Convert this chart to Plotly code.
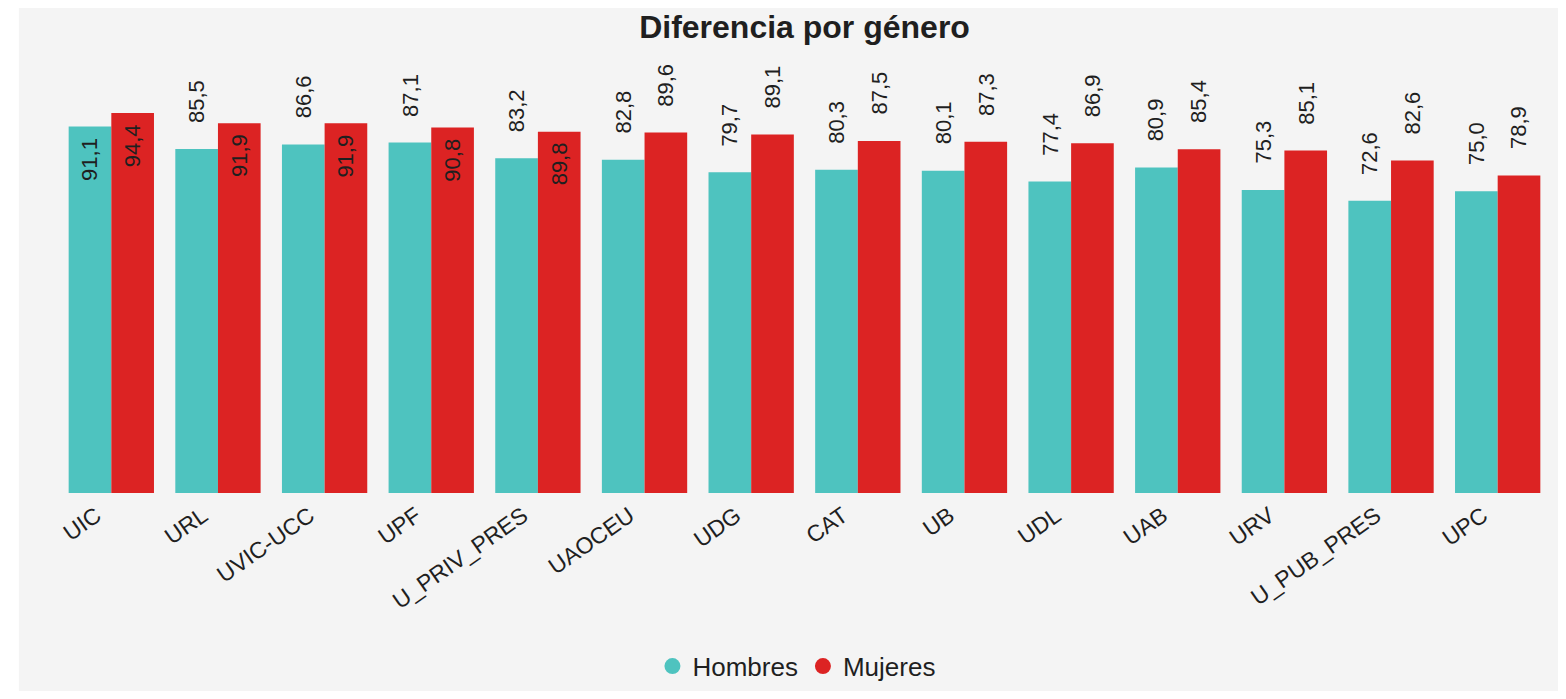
import plotly.graph_objects as go

# Datos: porcentaje por universidad y género
universidades = [
    "UIC", "URL", "UVIC-UCC", "UPF", "U_PRIV_PRES", "UAOCEU", "UDG",
    "CAT", "UB", "UDL", "UAB", "URV", "U_PUB_PRES", "UPC",
]
hombres = [91.1, 85.5, 86.6, 87.1, 83.2, 82.8, 79.7, 80.3, 80.1, 77.4, 80.9, 75.3, 72.6, 75.0]
mujeres = [94.4, 91.9, 91.9, 90.8, 89.8, 89.6, 89.1, 87.5, 87.3, 86.9, 85.4, 85.1, 82.6, 78.9]

# posicion de la etiqueta de cada barra (dentro / fuera)
pos_hombres = ["in"] + ["out"] * 13
pos_mujeres = ["in"] * 5 + ["out"] * 9

COLOR_H = "#4EC3BF"
COLOR_M = "#DC2323"
FONDO = "#F4F4F4"
FUENTE = "Liberation Sans, Arial, sans-serif"
TEXTO = "#1f1f1f"

fig = go.Figure()
fig.add_trace(go.Bar(x=universidades, y=hombres, name="Hombres",
                     marker=dict(color=COLOR_H, line=dict(width=0)),
                     showlegend=False))
fig.add_trace(go.Bar(x=universidades, y=mujeres, name="Mujeres",
                     marker=dict(color=COLOR_M, line=dict(width=0)),
                     showlegend=False))

# entradas de leyenda con circulos
for nombre, color in [("Hombres", COLOR_H), ("Mujeres", COLOR_M)]:
    fig.add_trace(go.Scatter(x=[None], y=[None], mode="markers", name=nombre,
                             marker=dict(color=color, size=20, symbol="circle")))


def fmt(v):
    return f"{v:.1f}".replace(".", ",")


# etiquetas de valor, giradas
for serie, posiciones, desplaz in [(hombres, pos_hombres, -0.2), (mujeres, pos_mujeres, 0.2)]:
    for i, (v, p) in enumerate(zip(serie, posiciones)):
        fig.add_annotation(
            x=i + desplaz, y=v, text=fmt(v), textangle=-90, showarrow=False,
            yanchor="top" if p == "in" else "bottom",
            yshift=-9 if p == "in" else 24,
            font=dict(family=FUENTE, size=22, color=TEXTO),
        )

# franja blanca a la izquierda
fig.add_shape(type="rect", xref="paper", yref="paper", x0=-0.04, x1=-0.0262, y0=-1, y1=2,
              fillcolor="white", line=dict(width=0), layer="below")

fig.update_layout(
    width=1550, height=683,
    margin=dict(l=50, r=7, t=52, b=198, autoexpand=False),
    paper_bgcolor=FONDO, plot_bgcolor=FONDO,
    barmode="group", bargap=0.2, bargroupgap=0,
    font=dict(family=FUENTE, color=TEXTO),
    title=dict(text="<b>Diferencia por género</b>", x=0.5, xref="paper",
               y=1 - 19 / 683, yanchor="middle",
               font=dict(family=FUENTE, size=32, color=TEXTO)),
    xaxis=dict(tickangle=-35, tickfont=dict(size=23, color=TEXTO), showgrid=False,
               showline=False, ticks="", zeroline=False, automargin=False,
               ticklabelshift=-15, ticklabelstandoff=4),
    yaxis=dict(visible=False, range=[0, 107.6], showgrid=False, zeroline=False),
    legend=dict(orientation="h", x=0.4946, xanchor="center", y=-0.40, yanchor="middle",
                font=dict(size=26, color=TEXTO), bgcolor="rgba(0,0,0,0)",
                itemsizing="trace"),
)

fig.write_html("out.html")
